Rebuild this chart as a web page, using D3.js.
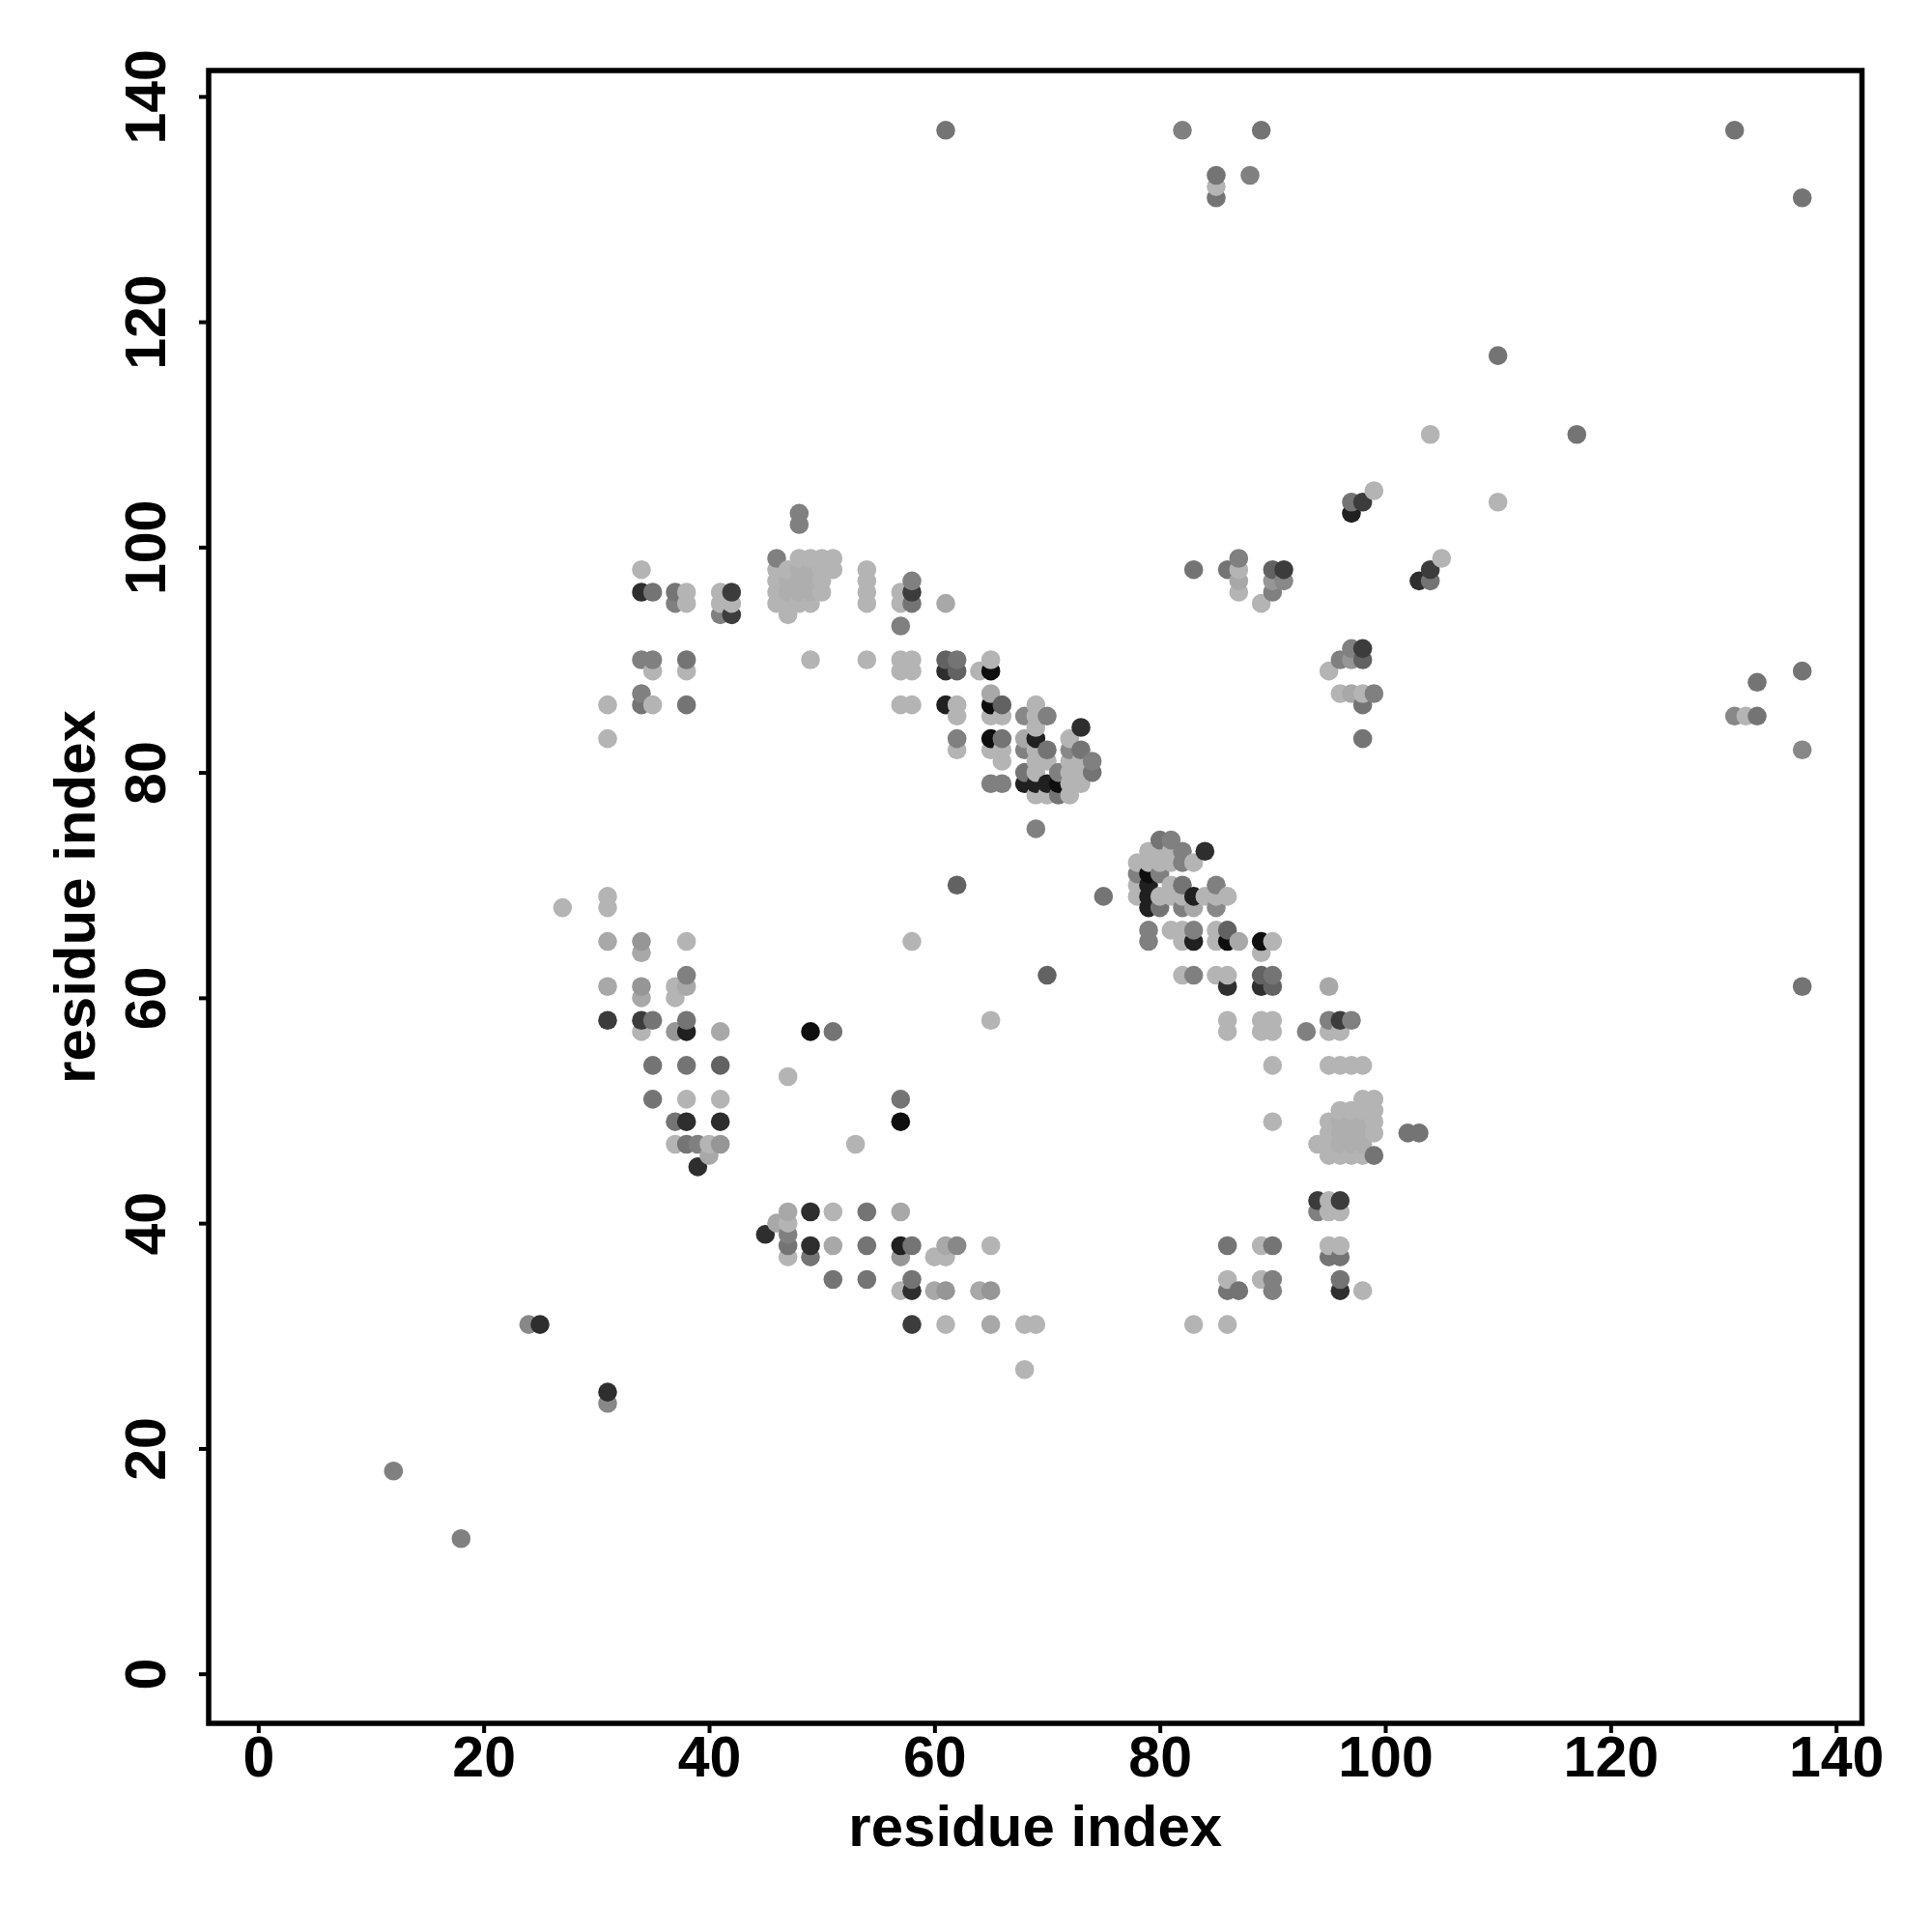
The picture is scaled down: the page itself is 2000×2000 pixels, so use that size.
<!DOCTYPE html>
<html>
<head>
<meta charset="utf-8">
<script src="https://cdn.jsdelivr.net/npm/d3@7"></script>
<style>
html,body{margin:0;padding:0;background:#fff;}
svg{display:block;}
text{font-family:"Liberation Sans",Arial,sans-serif;font-weight:bold;fill:#000;}
</style>
</head>
<body>
<div id="chart"></div>
<script>
const xTicks = [0,20,40,60,80,100,120,140];
const yTicks = [0,20,40,60,80,100,120,140];
const xTitle = "residue index";
const yTitle = "residue index";

// Contacts [residue i, residue j], grouped by grey level
const shade180 = [[34,98],[35,89],[38,96],[38,95],[38,89],[35,86],[31,86],[31,83],[41,96],[41,95],[42,95],[49,90],[54,90],[54,98],[54,97],[54,96],[54,95],
[48,99],[49,99],[50,99],[51,99],[46,98],[47,98],[50,98],[51,98],[46,97],[50,97],[46,96],[50,96],[46,95],[47,95],[48,95],[49,95],[47,94],
[57,90],[58,90],[57,89],[58,89],[57,86],[58,86],[64,89],[65,90],[62,86],[62,85],[65,85],[66,85],[62,82],[65,82],[66,82],[66,81],[69,86],[69,85],[69,84],[69,82],[69,81],[70,81],[69,80],[69,78],[70,78],[72,78],[72,83],[72,81],[73,81],[72,80],[73,80],[72,79],[73,79],
[79,73],[80,73],[81,73],[78,72],[79,72],[80,72],[81,72],[83,72],[78,70],[78,69],[80,69],[81,69],[81,70],[82,69],[84,69],[85,69],[86,69],[81,66],[82,66],[82,65],[85,66],[85,65],[90,65],[89,64],[82,62],[85,62],[86,62],[86,58],[86,57],[89,58],[90,58],[89,57],[90,57],[95,57],[96,57],[90,54],[95,54],[96,54],[97,54],[98,54],[90,49],
[98,51],[99,51],[96,50],[97,50],[98,50],[99,50],[95,49],[99,49],[95,48],[99,48],[94,47],[95,47],[95,46],[96,46],[97,46],[98,46],
[95,89],[96,87],[98,87],[95,42],[95,41],[96,41],[95,38],[96,38],[86,35],[89,38],[89,35],[98,34],[83,31],[86,31],
[31,69],[31,68],[38,65],[37,61],[37,60],[34,57],[38,51],[41,51],[37,47],[40,47],
[47,40],[51,41],[47,37],[60,37],[61,37],[65,38],[57,34],[61,31],[68,31],[69,31],[68,27],
[85,132],[104,110],[99,105],[110,104],[105,99],[87,98],[87,96],[89,95],[57,96],[57,95],[47,53],[53,47],[58,65],[65,58],[27,68],[132,85]];
const shade174 = [[48,98],[49,98],[47,97],[48,97],[49,97],[47,96],[48,96],[49,96],[96,49],[97,49],[98,49],[96,48],[97,48],[98,48],[96,47],[97,47],[98,47]];
const shade168 = [[65,87],[68,83],[87,65],[95,61],[31,65],[34,64],[31,61],[34,60],[38,61],[41,57],[40,46],[47,41],[46,40],[51,38],[57,41],[60,34],[64,34],[65,31],[97,87],[83,68],[87,97],[61,95],[61,38]];
const shade150 = [[34,65],[34,61],[37,57],[41,47],[57,37],[61,34],[65,34],[97,90],[90,97]];
const shade136 = [[68,85],[72,82],[85,68],[62,38],[91,97],[131,85],[137,82],[24,31],[31,24]];
const shade128 = [[34,90],[35,90],[34,87],[37,95],[41,94],[46,99],[48,103],[48,102],[57,93],[62,83],[65,79],[66,79],[70,85],[68,82],[71,80],[74,81],[69,75],[81,74],[82,73],[82,72],[78,71],[80,71],[82,68],[85,70],[79,66],[79,65],[83,66],[83,62],[93,57],[95,58],[97,58],[96,90],[97,91],[99,87],[94,41],[90,35],[90,34],[38,62],[39,47],[47,39],[58,97],[87,99],[90,96],[82,137],[88,133],[12,18],[18,12]];
const shade116 = [[35,96],[37,96],[38,90],[34,86],[38,86],[66,83],[70,82],[68,80],[74,80],[71,78],[73,82],[75,69],[80,74],[82,70],[80,68],[86,38],[87,34],[90,38],[96,37],[95,37],[96,35],[86,34],[35,58],[38,58],[35,54],[38,54],[35,51],[37,49],[38,47],[47,38],[49,37],[54,41],[54,38],[51,35],[54,35],[58,38],[58,35],[102,48],[103,48],[99,46],[98,86],[98,83],[133,85],[133,88],[137,89],[137,131],[137,61],[61,137],[89,137],[131,137],[85,133],[85,131],[110,117],[117,110],[83,98],[86,98],[97,104],[104,97],[58,95],[62,90],[90,62],[51,57],[57,51]];
const shade98 = [[61,90],[66,86],[62,70],[86,66],[89,62],[90,61],[98,90],[41,54],[70,62],[90,98],[62,89]];
const shade60 = [[42,96],[42,94],[94,42],[96,42],[96,58],[31,58],[34,58],[58,31],[98,91],[58,96],[91,98],[98,104],[104,98]];
const shade46 = [[34,96],[61,89],[73,84],[84,73],[89,61],[41,49],[38,49],[39,45],[45,39],[49,41],[49,38],[58,34],[96,34],[86,61],[25,31],[31,25],[103,97]];
const shade32 = [[61,86],[69,79],[70,79],[79,70],[79,69],[79,68],[38,57],[68,79],[69,83],[83,65],[83,69],[97,103],[57,38]];
const shade14 = [[65,89],[65,86],[65,83],[71,79],[79,71],[86,65],[89,65],[49,57],[57,49]];

const shadeGroups = [
  [180,shade180],[174,shade174],[168,shade168],[150,shade150],[136,shade136],[128,shade128],[116,shade116],
  [98,shade98],[60,shade60],[46,shade46],[32,shade32],[14,shade14]
];

const points = shadeGroups
  .flatMap(([g,list]) => list.map(([i,j]) => ({i,j,g})))
  .sort((a,b) => d3.ascending(a.i,b.i) || d3.ascending(a.j,b.j));

const W = 2000, H = 2000;
const left = 216, right = 1927.5, top_ = 73, bottom = 1784;
const domain = [-4.4, 142.3];
const x = d3.scaleLinear().domain(domain).range([left,right]);
const y = d3.scaleLinear().domain(domain).range([bottom,top_]);

const svg = d3.select("#chart").append("svg").attr("width",W).attr("height",H);

svg.append("g").selectAll("circle").data(points).join("circle")
  .attr("cx",d=>x(d.i)).attr("cy",d=>y(d.j)).attr("r",9.8)
  .attr("fill",d=>d3.rgb(d.g,d.g,d.g).formatHex());

const xAxis = d3.axisBottom(x).tickValues(xTicks).tickSize(10).tickFormat(d3.format("d"));
const gx = svg.append("g").attr("transform",`translate(0,${bottom})`).call(xAxis);
gx.select(".domain").remove();
gx.selectAll("line").attr("stroke","#000").attr("stroke-width",4);
gx.selectAll("text").attr("font-size",59).attr("dy",null).attr("y",55);

const yAxis = d3.axisLeft(y).tickValues(yTicks).tickSize(10).tickFormat(d3.format("d"));
const gy = svg.append("g").attr("transform",`translate(${left},0)`).call(yAxis);
gy.select(".domain").remove();
gy.selectAll("line").attr("stroke","#000").attr("stroke-width",4);
gy.selectAll("text").attr("font-size",59).attr("x",null).attr("dy",null)
  .attr("text-anchor","middle").attr("transform","translate(-45,0) rotate(-90)");

svg.append("rect").attr("x",left).attr("y",top_).attr("width",right-left).attr("height",bottom-top_)
  .attr("fill","none").attr("stroke","#000").attr("stroke-width",5.5);

svg.append("text").attr("x",(left+right)/2).attr("y",1911).attr("text-anchor","middle")
  .attr("font-size",60).text(xTitle);
svg.append("text").attr("transform",`translate(98,${(top_+bottom)/2}) rotate(-90)`).attr("text-anchor","middle")
  .attr("font-size",60).text(yTitle);
</script>
</body>
</html>
